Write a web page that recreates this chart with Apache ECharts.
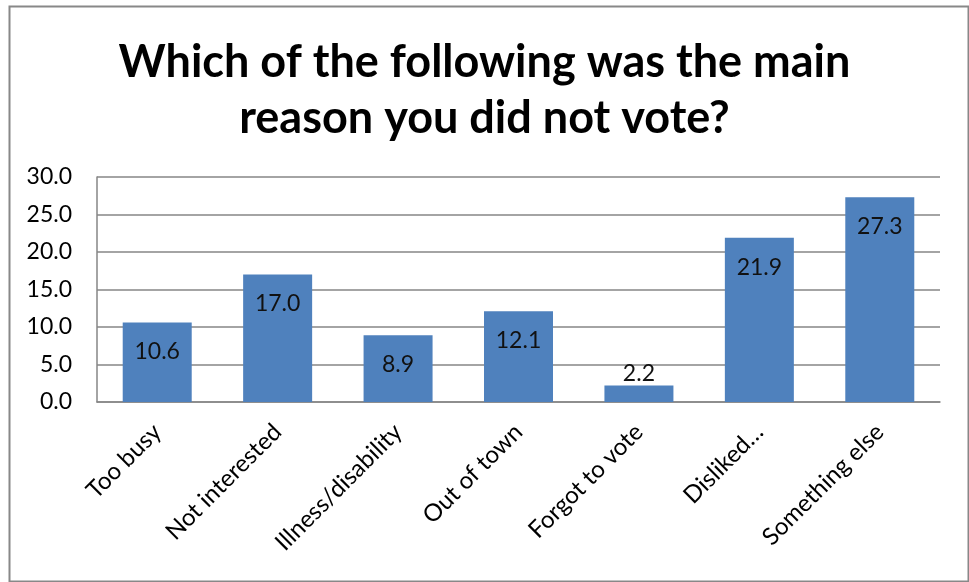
<!DOCTYPE html>
<html>
<head>
<meta charset="utf-8">
<script src="https://cdn.jsdelivr.net/npm/echarts@6/dist/echarts.min.js"></script>
<style>html,body{margin:0;padding:0;background:#fff;}#c{width:969px;height:582px;}</style>
</head>
<body>
<div id="c"></div>
<script>
const categories = ['Too busy', 'Not interested', 'Illness/disability', 'Out of town', 'Forgot to vote', 'Disliked…', 'Something else'];
const values = [10.6, 17.0, 8.9, 12.1, 2.2, 21.9, 27.3];
const yTicks = [0, 5, 10, 15, 20, 25, 30];
const titleText = 'Which of the following was the main\nreason you did not vote?';

const chart = echarts.init(document.getElementById('c'), null, {renderer: 'canvas'});
const labelFont = 'Lato';
chart.setOption({
  backgroundColor: '#fff',
  animation: false,
  title: {
    text: titleText,
    left: 'center',
    top: 29,
    textStyle: {fontFamily: 'Lato', fontWeight: 'bold', fontSize: 45, lineHeight: 56, color: '#000'}
  },
  graphic: [{
    type: 'rect', left: 7, top: 4, shape: {width: 959, height: 575},
    style: {fill: 'none', stroke: '#888', lineWidth: 2}, silent: true
  }],
  grid: {left: 97, right: 29, top: 177, bottom: 180, containLabel: false},
  xAxis: {
    type: 'category',
    data: categories,
    axisLine: {show: true, lineStyle: {color: '#868686', width: 1.5}},
    axisTick: {show: false},
    axisLabel: {rotate: 45, interval: 0, margin: 26, fontFamily: labelFont, fontSize: 24, color: '#000'}
  },
  yAxis: {
    type: 'value',
    min: yTicks[0], max: yTicks[yTicks.length - 1], interval: 5,
    axisLine: {show: true, lineStyle: {color: '#868686', width: 1.5}},
    axisTick: {show: false},
    splitLine: {show: true, lineStyle: {color: '#868686', width: 1.5}},
    axisLabel: {margin: 25, fontFamily: labelFont, fontSize: 23, color: '#000', formatter: v => v.toFixed(1)}
  },
  series: [{
    type: 'bar',
    barWidth: 69,
    data: values.map(v => v < 5 ? {value: v, label: {position: 'top', distance: 0}} : v),
    itemStyle: {color: '#4F81BD'},
    label: {
      show: true, position: 'insideTop', distance: 18,
      fontFamily: labelFont, fontSize: 23, color: '#111',
      formatter: p => p.value.toFixed(1)
    }
  }]
});
</script>
</body>
</html>
